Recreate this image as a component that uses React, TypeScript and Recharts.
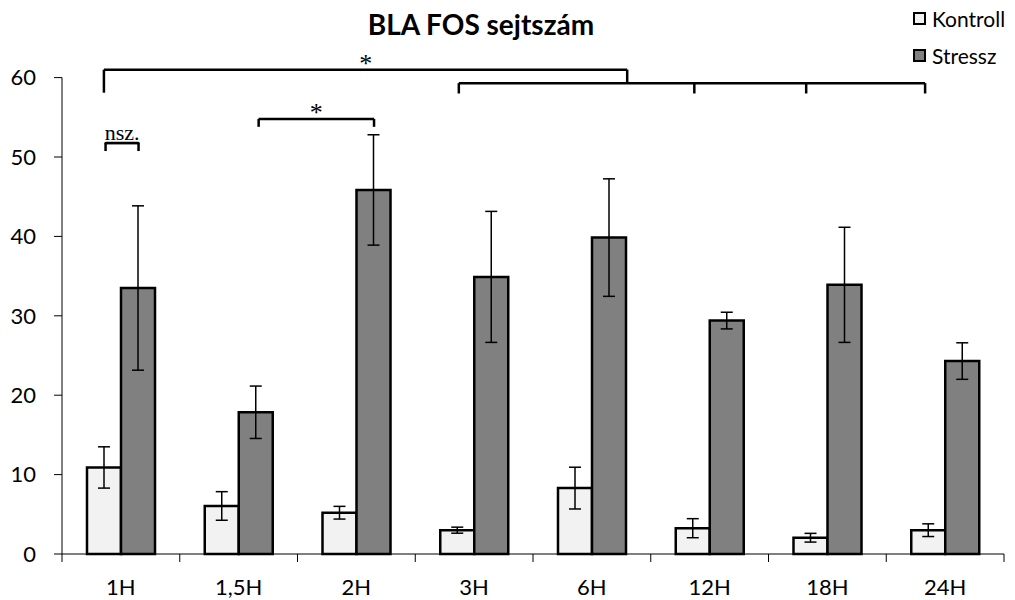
import React from 'react';
import { BarChart, Bar, XAxis, YAxis, ErrorBar, ReferenceLine, ReferenceDot, Legend } from 'recharts';

const categories = ['1H', '1,5H', '2H', '3H', '6H', '12H', '18H', '24H'];
const kontrollValues = [10.9, 6.05, 5.2, 3.0, 8.3, 3.25, 2.05, 3.0];
const kontrollErrors = [2.6, 1.8, 0.8, 0.38, 2.63, 1.2, 0.55, 0.8];
const stresszValues = [33.5, 17.85, 45.85, 34.9, 39.85, 29.4, 33.9, 24.3];
const stresszErrors = [10.35, 3.3, 6.95, 8.25, 7.4, 1.05, 7.25, 2.3];
const yTicks = [0, 10, 20, 30, 40, 50, 60];

// significance brackets, in (category-position, value) units
const bracketSegments: [number, number, number, number][] = [
  [0.356, 58.1, 0.356, 61.0],
  [0.356, 61.0, 4.8, 61.0],
  [4.8, 61.0, 4.8, 59.3],
  [3.37, 59.3, 7.33, 59.3],
  [3.37, 59.3, 3.37, 58.0],
  [5.37, 59.3, 5.37, 58.0],
  [6.32, 59.3, 6.32, 58.0],
  [7.33, 59.3, 7.33, 58.0],
  [1.67, 53.8, 1.67, 54.8],
  [1.67, 54.8, 2.65, 54.8],
  [2.65, 54.8, 2.65, 53.8],
  [0.37, 50.75, 0.37, 51.76],
  [0.37, 51.76, 0.65, 51.76],
  [0.65, 51.76, 0.65, 50.75],
];
const bracketLabels = [
  { x: 2.58, y: 61.0, text: '*', size: 26, underline: false },
  { x: 2.16, y: 54.8, text: '*', size: 26, underline: false },
  { x: 0.51, y: 51.76, text: 'nsz.', size: 22, underline: true },
];

const data = categories.map((c, i) => ({
  name: c,
  pos: i + 0.5,
  kontroll: kontrollValues[i],
  kErr: kontrollErrors[i],
  stressz: stresszValues[i],
  sErr: stresszErrors[i],
}));

const FONT = 'Lato, "Open Sans", sans-serif';
const X_TICK_MARGIN = 25;
const X_TICK_LEN = 8;

const CategoryTick = (props: any) => {
  const { x, y, payload, index, visibleTicksCount, width } = props;
  const half =
    payload && typeof payload.offset === 'number' && payload.offset > 0
      ? payload.offset
      : width / visibleTicksCount / 2;
  const axisY = y - X_TICK_MARGIN;
  const isLast = index === visibleTicksCount - 1;
  return (
    <g>
      <line x1={x - half} x2={x - half} y1={axisY} y2={axisY + X_TICK_LEN} stroke="#000" strokeWidth={1} />
      {isLast && (
        <line x1={x + half} x2={x + half} y1={axisY} y2={axisY + X_TICK_LEN} stroke="#000" strokeWidth={1} />
      )}
      <text x={x} y={y} dy="0.71em" textAnchor="middle" fill="#000" fontSize={22} fontFamily={FONT}>
        {payload.value}
      </text>
    </g>
  );
};

const renderLegend = (props: any) => {
  const { payload } = props;
  return (
    <div style={{ fontFamily: FONT, fontSize: 21, color: '#000' }}>
      {(payload || []).map((p: any) => (
        <div key={p.value} style={{ display: 'flex', alignItems: 'center', height: 37 }}>
          <span
            style={{
              display: 'inline-block',
              width: 9,
              height: 9,
              border: '2.5px solid #000',
              background: p.color,
              marginRight: 6,
            }}
          />
          <span>{p.value}</span>
        </div>
      ))}
    </div>
  );
};

export default function App() {
  return (
    <div style={{ position: 'absolute', left: 0, top: 0, width: 1015, height: 600, background: '#fff' }}>
      <div
        style={{
          position: 'absolute',
          left: 181,
          width: 600,
          top: 10,
          textAlign: 'center',
          fontFamily: FONT,
          fontWeight: 'bold',
          fontSize: 28,
          lineHeight: '28px',
          color: '#000',
        }}
      >
        BLA FOS sejtszám
      </div>
      <BarChart
        width={1015}
        height={600}
        data={data}
        margin={{ top: 77.6, right: 11, left: 0, bottom: 0 }}
        barGap={0}
        barSize={34}
      >
        <XAxis
          xAxisId="num"
          type="number"
          dataKey="pos"
          domain={[0, 8]}
          allowDataOverflow
          hide
          height={0}
        />
        <XAxis
          dataKey="name"
          height={46}
          axisLine={{ stroke: '#000', strokeWidth: 1 }}
          tickLine={false}
          tickSize={0}
          tickMargin={X_TICK_MARGIN}
          interval={0}
          tick={<CategoryTick />}
        />
        <YAxis
          domain={[0, 60]}
          ticks={yTicks}
          width={62}
          interval={0}
          axisLine={{ stroke: '#000', strokeWidth: 1 }}
          tickLine={{ stroke: '#000', strokeWidth: 1 }}
          tickSize={8}
          tickMargin={18}
          tick={{ fill: '#000', fontSize: 22, fontFamily: FONT }}
        />
        <Legend
          layout="vertical"
          align="center"
          verticalAlign="middle"
          content={renderLegend}
          wrapperStyle={{ left: 913, top: 0, width: 102 }}
        />
        <Bar dataKey="kontroll" name="Kontroll" fill="#f2f2f2" stroke="#000" strokeWidth={2.5} isAnimationActive={false}>
          <ErrorBar dataKey="kErr" width={6} stroke="#000" strokeWidth={1.5} />
        </Bar>
        <Bar dataKey="stressz" name="Stressz" fill="#808080" stroke="#000" strokeWidth={2.5} isAnimationActive={false}>
          <ErrorBar dataKey="sErr" width={6} stroke="#000" strokeWidth={1.5} />
        </Bar>
        {bracketSegments.map((s, i) => (
          <ReferenceLine
            key={'b' + i}
            xAxisId="num"
            segment={[{ x: s[0], y: s[1] }, { x: s[2], y: s[3] }]}
            stroke="#000"
            strokeWidth={2.5}
            ifOverflow="visible"
          />
        ))}
        {bracketLabels.map((l, i) => (
          <ReferenceDot
            key={'l' + i}
            xAxisId="num"
            x={l.x}
            y={l.y}
            r={0}
            ifOverflow="visible"
            shape={(p: any) => (
              <text
                x={p.cx}
                y={p.cy - (l.underline ? 3 : -2)}
                textAnchor="middle"
                fontFamily='"Liberation Serif", "DejaVu Serif", serif'
                fontSize={l.size}
                fill="#000"
                textDecoration={l.underline ? 'underline' : undefined}
              >
                {l.text}
              </text>
            )}
          />
        ))}
      </BarChart>
    </div>
  );
}
